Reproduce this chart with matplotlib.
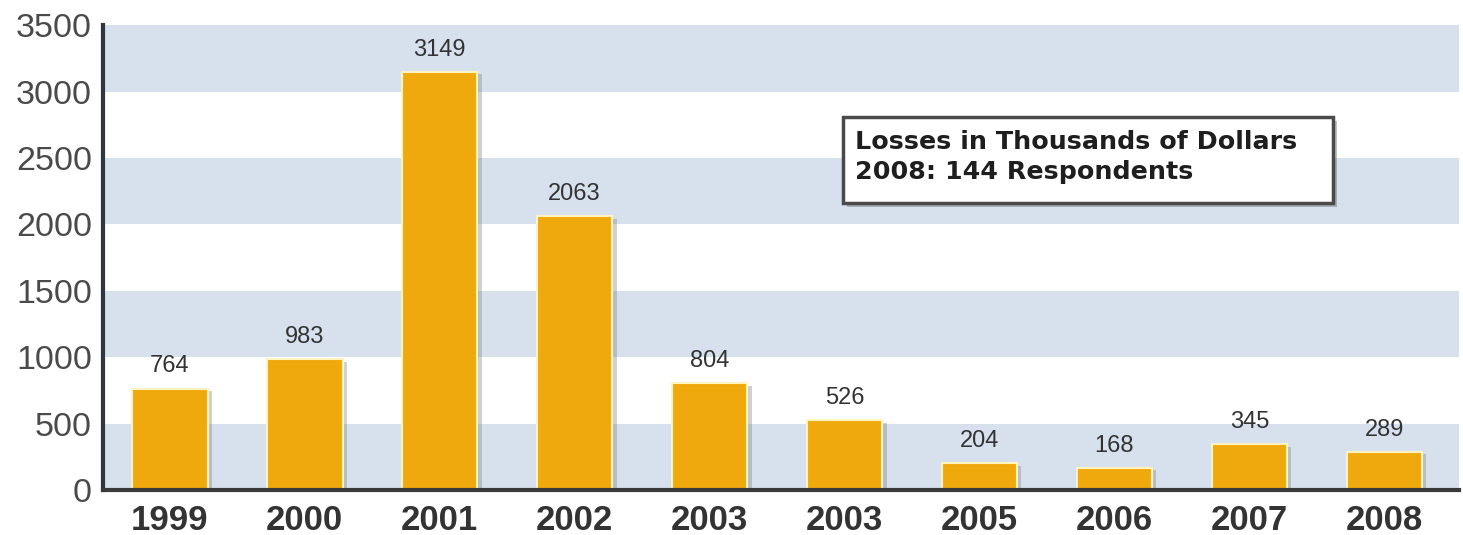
import matplotlib
matplotlib.use("Agg")
import matplotlib.pyplot as plt
import matplotlib.patheffects as pe
from matplotlib.patches import Rectangle

plt.rcParams["font.family"] = ["Liberation Sans", "DejaVu Sans"]

years = ["1999", "2000", "2001", "2002", "2003", "2003", "2005", "2006", "2007", "2008"]
losses = [764, 983, 3149, 2063, 804, 526, 204, 168, 345, 289]
y_ticks = [0, 500, 1000, 1500, 2000, 2500, 3000, 3500]
legend_lines = ["Losses in Thousands of Dollars", "2008: 144 Respondents"]

fig = plt.figure(figsize=(14.63, 5.35), dpi=100)
ax = fig.add_axes([0.0704, 0.0841, 0.9266, 0.869])

# background bands
for lo in range(0, 3500, 1000):
    ax.axhspan(lo, lo + 500, color="#d7e1ed", zorder=0, lw=0)

x = list(range(len(years)))
bars = ax.bar(x, losses, width=0.56, color="#f0a90d", edgecolor="#fff3c0",
              linewidth=1.5, zorder=2)
for b in bars:
    b.set_path_effects([pe.SimplePatchShadow(offset=(3, -2), shadow_rgbFace="#7a7a7a", alpha=0.35),
                        pe.Normal()])

for xi, v in zip(x, losses):
    ax.annotate(str(v), (xi, v), xytext=(0, 8), textcoords="offset points",
                ha="center", va="bottom", fontsize=17, color="#333333")

ax.set_xlim(-0.495, 9.55)
ax.set_ylim(0, 3500)
ax.set_yticks(y_ticks)
ax.set_yticklabels([str(t) for t in y_ticks], fontsize=24.5, color="#4a4a4a")
ax.set_xticks(x)
ax.set_xticklabels(years, fontsize=25, fontweight="bold", color="#333333")
ax.tick_params(axis="both", length=0)
ax.tick_params(axis="y", pad=8)
ax.tick_params(axis="x", pad=10)

for s in ["top", "right"]:
    ax.spines[s].set_visible(False)
ax.spines["left"].set_color("#2f3640")
ax.spines["left"].set_linewidth(3)
ax.spines["bottom"].set_color("#3a3a3a")
ax.spines["bottom"].set_linewidth(3)
ax.spines["bottom"].set_zorder(3)

box = Rectangle((0.546, 0.617), 0.361, 0.185, transform=ax.transAxes,
                facecolor="white", edgecolor="#4a4a4a", linewidth=2.5, zorder=5,
                path_effects=[pe.SimplePatchShadow(offset=(3, -3), alpha=0.35), pe.Normal()])
ax.add_patch(box)
ax.text(0.555, 0.748, legend_lines[0], transform=ax.transAxes, family="DejaVu Sans",
        fontsize=18.3, fontweight="bold", color="#1e1e1e", va="center", ha="left", zorder=6)
ax.text(0.555, 0.684, legend_lines[1], transform=ax.transAxes, family="DejaVu Sans",
        fontsize=18.3, fontweight="bold", color="#1e1e1e", va="center", ha="left", zorder=6)

fig.savefig("out.png", dpi=100, facecolor="white")
